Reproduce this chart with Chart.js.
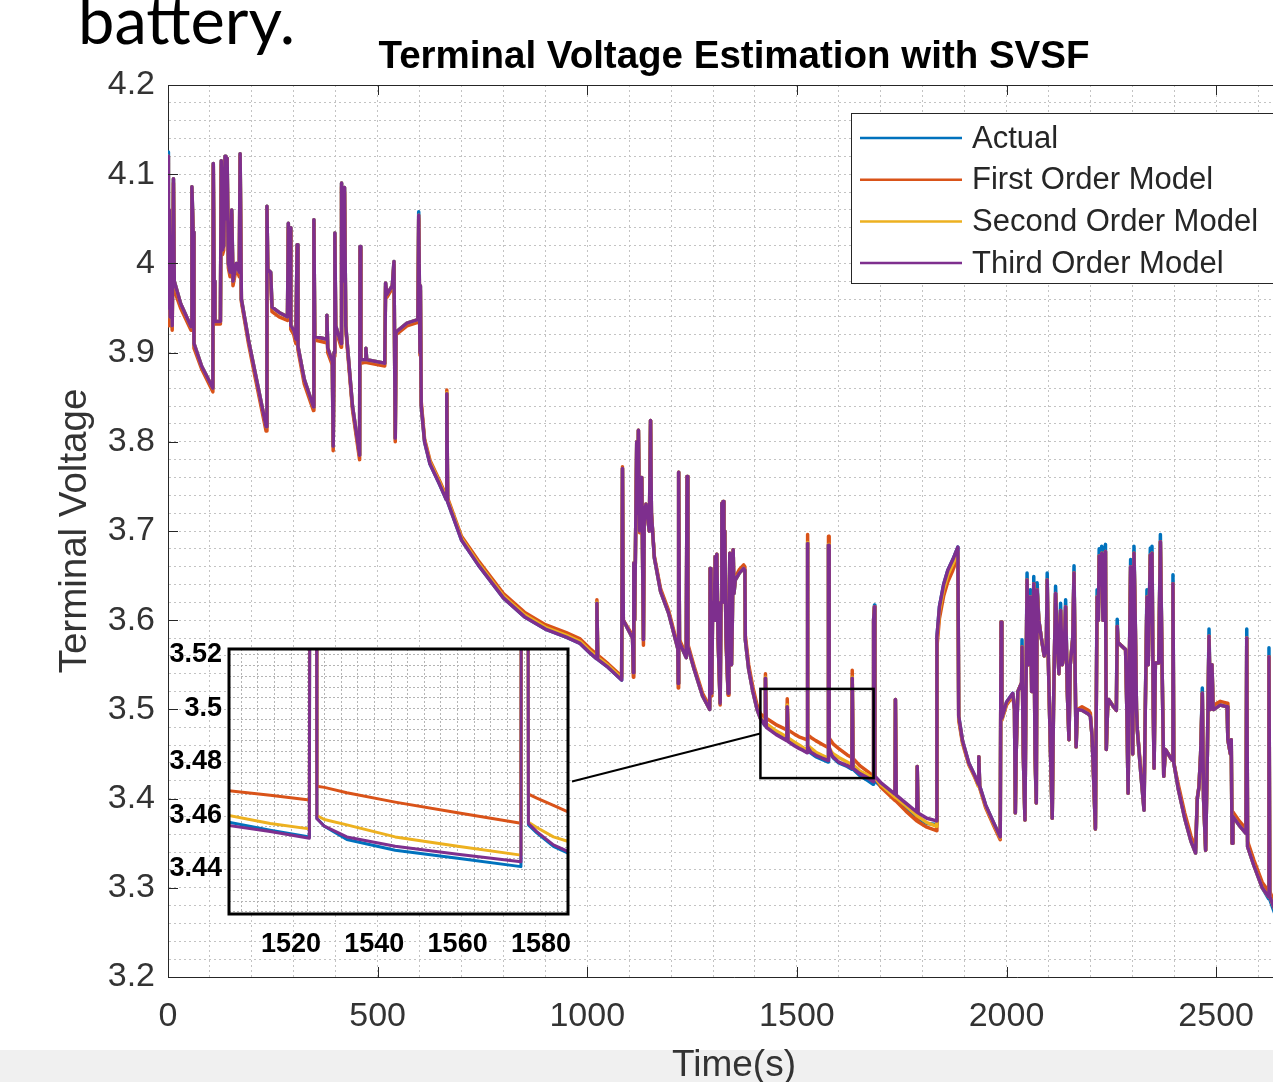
<!DOCTYPE html>
<html><head><meta charset="utf-8">
<script src="https://cdn.jsdelivr.net/npm/chart.js@4/dist/chart.umd.min.js"></script>
<style>
html,body{margin:0;padding:0;background:#fff;width:1273px;height:1082px;overflow:hidden;position:relative}
#band{position:absolute;left:0;top:1050px;width:1273px;height:32px;background:#f0f0f0}
#main{position:absolute;left:0;top:0}
#inset{position:absolute;left:150px;top:630px}
#slide{position:absolute;left:78px;top:-13px;font-family:Lato,sans-serif;font-size:65px;color:#000;line-height:1;white-space:nowrap}
</style></head><body>
<div id="band"></div>
<canvas id="main" width="1300" height="1082"></canvas>
<canvas id="inset" width="430" height="340"></canvas>
<div id="slide">battery.</div>
<script>
const FONT = "'Liberation Sans', Arial, sans-serif";
const chartTitle = 'Terminal Voltage Estimation with SVSF';
const seriesNames = ['Actual', 'First Order Model', 'Second Order Model', 'Third Order Model'];
const seriesColors = ['#0072BD', '#D95319', '#EDB120', '#7E2F8E'];

// time (s)
const timeS = [
0,1,3,5,8,10,13,15,30,55,57,60,62,80,107,108,110,112,125,127,130,133,136,138,141,144,148,152,155,163,170,172,
175,192,208,224,234,236,238,245,248,265,285,287,289,291,293,300,305,308,310,325,347,
348,350,378,379,381,392,394,396,398,400,413,414,417,421,424,440,457,
458,460,470,472,474,517,519,522,535,539,542,544,570,596,598,601,602,604,
612,625,648,664,665,667,700,740,800,850,900,950,983,1007,1022,1023,1025,1050,1082,
1084,1086,1108,1110,1111,1113,1118,1120,1122,1125,1130,1134,1136,1140,1148,1151,1153,1160,1175,1194,1216,1217,1218,1220,1236,1238,1240,
1255,1275,1292,1293,1295,1297,1299,1303,1305,1307,1309,1312,1317,1319,1321,1323,1324,1326,1328,1331,1336,1338,1340,1342,1344,1346,1348,1350,1353,1363,1373,1376,1377,1385,1395,1405,1413,
1421,1424,1425,1427,1450,1476,1477,1479,1495,1505,
1515,1524.4,1524.6,1526,1526.2,1528,1533.4,1545,1560,1575.2,1575.4,1576.8,1577,1579,1583,1587,1600,
1620,1631,1632,1634,1650,1670,1682,1683,1685,1686,1700,1734,1735,1737,1760,1786,1787,1789,1810,1833,
1834,1840,1850,1860,1872,1884,1886,1895,1910,1925,1933,1934,1936,1950,1970,1985,1987,1989,2000,2015,
2019,2021,2023,2027,2036,2037,2040,2044,2046,2049,2052,2054,2057,2060,2063,2065,2068,2071,2073,2077,2083,2090,2095,2097,2100,2105,2109,2112,2115,2117,2121,2125,2129,2133,2137,2141,2145,2149,2152,2158,2161,2164,2166,2169,2180,2195,2200,2204,2208,2212,2216,2219,2221,2224,2227,2230,2233,2236,2238,
2241,2244,2255,2262,2264,2266,2284,2287,2290,2293,2296,2299,2301,2304,2307,2310,2312,2320,2328,2331,2335,2338,2343,2345,2347,2350,2352,2355,2363,2367,2371,2375,2379,2395,2397,2399,
2410,2425,2440,2451,2455,2459,2463,2467,2470,2475,2479,2483,2486,2490,2493,2495,2510,2526,2528,2534,2536,2538,2540,2555,2571,2573,2575,2590,2610,2625,2626,2628,2637,2645
];

const actualV = [
4.125,3.95,4.06,3.94,3.99,3.93,4.095,3.98,3.955,3.929,4.086,4.035,3.91,3.885,3.86,4.112,3.98,3.935,3.935,4.115,4.015,4.02,4.12,4.05,4.118,4.0,3.99,4.06,3.98,4.0,3.99,4.123,
3.96,3.914,3.877,3.84,3.817,4.064,3.993,3.99,3.951,3.945,3.94,4.045,3.96,4.04,3.93,3.925,3.915,4.021,3.907,3.87,3.839,
4.049,3.918,3.915,3.942,3.905,3.89,3.795,3.90,4.034,3.93,3.91,4.09,3.98,4.085,3.93,3.84,3.785,
4.019,3.892,3.892,3.905,3.892,3.888,3.978,3.965,3.975,4.002,3.804,3.923,3.933,3.937,4.058,3.90,3.975,3.84,
3.80,3.775,3.752,3.735,3.854,3.733,3.69,3.662,3.625,3.604,3.59,3.581,3.574,3.563,3.557,3.619,3.556,3.547,3.533,
3.770,3.600,3.580,3.541,3.664,3.60,3.80,3.72,3.813,3.70,3.76,3.578,3.72,3.73,3.70,3.824,3.72,3.67,3.632,3.608,3.568,3.529,3.766,3.575,3.558,3.761,3.57,
3.545,3.515,3.500,3.658,3.60,3.518,3.62,3.60,3.671,3.60,3.674,3.58,3.507,3.62,3.731,3.65,3.733,3.62,3.70,3.58,3.518,3.60,3.675,3.60,3.55,3.60,3.679,3.63,3.645,3.653,3.658,3.656,3.578,3.545,3.52,3.50,3.490,
3.484,3.482,3.535,3.481,3.473,3.466,3.503,3.465,3.460,3.4575,
3.4545,3.452,3.687,3.687,3.459,3.456,3.451,3.447,3.444,3.4409,3.685,3.685,3.4565,3.4535,3.4485,3.4456,3.440,
3.436,3.433,3.535,3.433,3.426,3.42,3.416,3.60,3.617,3.42,3.414,3.40,3.511,3.399,3.389,3.379,3.436,3.378,3.372,3.371,
3.581,3.615,3.640,3.656,3.668,3.682,3.492,3.465,3.44,3.425,3.416,3.447,3.414,3.393,3.372,3.357,3.598,3.49,3.508,3.518,
3.50,3.384,3.45,3.52,3.53,3.578,3.45,3.376,3.50,3.653,3.55,3.60,3.634,3.52,3.55,3.649,3.45,3.395,3.642,3.60,3.58,3.56,3.57,3.653,3.55,3.45,3.378,3.50,3.58,3.638,3.58,3.54,3.619,3.55,3.56,3.623,3.52,3.466,3.55,3.58,3.661,3.53,3.458,3.50,3.499,3.495,3.492,3.47,3.42,3.366,3.634,3.60,3.68,3.64,3.683,3.60,3.675,3.685,3.455,
3.50,3.511,3.503,3.499,3.601,3.575,3.567,3.50,3.406,3.55,3.668,3.58,3.45,3.683,3.60,3.50,3.477,3.43,3.387,3.50,3.634,3.55,3.681,3.60,3.683,3.50,3.434,3.552,3.552,3.696,3.55,3.425,3.455,3.443,3.651,3.44,
3.41,3.378,3.352,3.339,3.40,3.413,3.45,3.524,3.40,3.342,3.45,3.590,3.50,3.550,3.50,3.50,3.505,3.503,3.466,3.45,3.466,3.35,3.38,3.37,3.361,3.59,3.346,3.325,3.30,3.288,3.569,3.287,3.275,3.265
];

const firstV = [
4.05,3.93,4.0,3.93,3.97,3.925,4.09,3.97,3.95,3.925,4.08,4.03,3.905,3.882,3.856,4.11,3.975,3.932,3.932,4.11,4.01,4.015,4.115,4.045,4.115,3.995,3.985,4.055,3.975,3.995,3.985,4.12,
3.957,3.91,3.872,3.835,3.812,4.06,3.99,3.987,3.946,3.94,3.936,4.04,3.956,4.036,3.926,3.92,3.91,4.018,3.903,3.865,3.835,
4.045,3.914,3.911,3.938,3.9,3.886,3.79,3.896,4.03,3.926,3.906,4.086,3.976,4.08,3.926,3.836,3.78,
4.015,3.888,3.889,3.9,3.889,3.885,3.974,3.962,3.972,3.998,3.8,3.92,3.93,3.934,4.05,3.897,3.97,3.845,
3.803,3.779,3.756,3.739,3.858,3.737,3.694,3.667,3.63,3.609,3.595,3.586,3.579,3.568,3.562,3.623,3.561,3.551,3.537,
3.772,3.60,3.583,3.536,3.664,3.60,3.80,3.72,3.813,3.698,3.76,3.572,3.718,3.73,3.70,3.824,3.72,3.672,3.635,3.611,3.571,3.524,3.766,3.578,3.561,3.761,3.573,
3.548,3.518,3.503,3.658,3.60,3.515,3.62,3.60,3.671,3.60,3.674,3.58,3.505,3.62,3.731,3.65,3.733,3.62,3.70,3.575,3.516,3.60,3.675,3.60,3.55,3.60,3.679,3.632,3.648,3.657,3.662,3.66,3.583,3.55,3.525,3.505,3.495,
3.492,3.491,3.540,3.49,3.483,3.477,3.512,3.477,3.472,3.4693,
3.4676,3.4658,3.696,3.696,3.4709,3.4705,3.4685,3.465,3.461,3.4571,3.694,3.694,3.468,3.4665,3.4638,3.461,3.456,
3.449,3.446,3.544,3.445,3.437,3.43,3.425,3.60,3.615,3.425,3.413,3.398,3.511,3.397,3.386,3.375,3.436,3.374,3.368,3.364,
3.57,3.602,3.627,3.643,3.656,3.671,3.488,3.462,3.438,3.423,3.414,3.447,3.412,3.39,3.369,3.354,3.598,3.488,3.505,3.515,
3.50,3.384,3.45,3.52,3.53,3.570,3.45,3.376,3.50,3.645,3.55,3.60,3.626,3.52,3.55,3.641,3.45,3.395,3.634,3.60,3.58,3.56,3.57,3.645,3.55,3.45,3.378,3.50,3.58,3.630,3.58,3.54,3.611,3.55,3.56,3.615,3.52,3.466,3.55,3.58,3.653,3.53,3.458,3.50,3.503,3.499,3.496,3.47,3.42,3.366,3.626,3.60,3.672,3.64,3.675,3.60,3.667,3.677,3.455,
3.50,3.511,3.503,3.499,3.593,3.575,3.567,3.50,3.406,3.55,3.660,3.58,3.45,3.675,3.60,3.50,3.477,3.434,3.391,3.50,3.626,3.55,3.673,3.60,3.675,3.50,3.434,3.552,3.552,3.688,3.55,3.425,3.455,3.443,3.641,3.44,
3.415,3.384,3.358,3.345,3.40,3.413,3.45,3.518,3.40,3.342,3.45,3.582,3.50,3.550,3.50,3.505,3.509,3.507,3.466,3.45,3.466,3.35,3.385,3.375,3.366,3.580,3.352,3.331,3.306,3.296,3.559,3.296,3.285,3.276
];

const secondV = [
4.12,3.95,4.06,3.94,3.99,3.93,4.095,3.98,3.955,3.929,4.086,4.035,3.91,3.885,3.86,4.112,3.98,3.935,3.935,4.115,4.015,4.02,4.12,4.05,4.118,4.0,3.99,4.06,3.98,4.0,3.99,4.123,
3.96,3.914,3.877,3.84,3.817,4.064,3.993,3.99,3.951,3.945,3.94,4.045,3.96,4.04,3.93,3.925,3.915,4.021,3.907,3.87,3.839,
4.049,3.918,3.915,3.942,3.905,3.89,3.795,3.90,4.034,3.93,3.91,4.09,3.98,4.085,3.93,3.84,3.785,
4.019,3.892,3.892,3.905,3.892,3.888,3.978,3.965,3.975,4.002,3.804,3.923,3.933,3.937,4.054,3.90,3.975,3.84,
3.801,3.777,3.754,3.737,3.855,3.735,3.692,3.664,3.627,3.606,3.592,3.583,3.576,3.565,3.559,3.62,3.558,3.549,3.535,
3.770,3.600,3.580,3.541,3.664,3.60,3.80,3.72,3.813,3.70,3.76,3.578,3.72,3.73,3.70,3.824,3.72,3.67,3.632,3.608,3.568,3.529,3.766,3.575,3.558,3.761,3.57,
3.545,3.515,3.500,3.658,3.60,3.518,3.62,3.60,3.671,3.60,3.674,3.58,3.507,3.62,3.731,3.65,3.733,3.62,3.70,3.58,3.518,3.60,3.675,3.60,3.55,3.60,3.679,3.63,3.645,3.653,3.658,3.656,3.578,3.545,3.52,3.50,3.490,
3.487,3.485,3.536,3.484,3.476,3.469,3.505,3.468,3.463,3.46,
3.457,3.455,3.687,3.687,3.460,3.4585,3.4565,3.452,3.4485,3.4452,3.685,3.685,3.4575,3.4555,3.452,3.4501,3.446,
3.441,3.438,3.536,3.438,3.431,3.426,3.422,3.60,3.615,3.423,3.416,3.402,3.511,3.401,3.392,3.381,3.436,3.38,3.373,3.369,
3.576,3.61,3.635,3.651,3.663,3.677,3.49,3.464,3.439,3.424,3.414,3.447,3.413,3.392,3.371,3.356,3.598,3.489,3.507,3.517,
3.50,3.384,3.45,3.52,3.53,3.570,3.45,3.376,3.50,3.645,3.55,3.60,3.626,3.52,3.55,3.641,3.45,3.395,3.634,3.60,3.58,3.56,3.57,3.645,3.55,3.45,3.378,3.50,3.58,3.630,3.58,3.54,3.611,3.55,3.56,3.615,3.52,3.466,3.55,3.58,3.653,3.53,3.458,3.50,3.499,3.495,3.492,3.47,3.42,3.366,3.626,3.60,3.672,3.64,3.675,3.60,3.667,3.677,3.455,
3.50,3.511,3.503,3.499,3.593,3.575,3.567,3.50,3.406,3.55,3.660,3.58,3.45,3.675,3.60,3.50,3.477,3.43,3.387,3.50,3.626,3.55,3.673,3.60,3.675,3.50,3.434,3.552,3.552,3.688,3.55,3.425,3.455,3.443,3.641,3.44,
3.41,3.378,3.352,3.339,3.40,3.413,3.45,3.518,3.40,3.342,3.45,3.582,3.50,3.550,3.50,3.50,3.505,3.503,3.466,3.45,3.466,3.35,3.38,3.37,3.361,3.580,3.346,3.325,3.30,3.290,3.559,3.29,3.279,3.27
];

const thirdV = [
4.12,3.95,4.06,3.94,3.99,3.93,4.095,3.98,3.955,3.929,4.086,4.035,3.91,3.885,3.86,4.112,3.98,3.935,3.935,4.115,4.015,4.02,4.12,4.05,4.118,4.0,3.99,4.06,3.98,4.0,3.99,4.123,
3.96,3.914,3.877,3.84,3.817,4.064,3.993,3.99,3.951,3.945,3.94,4.045,3.96,4.04,3.93,3.925,3.915,4.021,3.907,3.87,3.839,
4.049,3.918,3.915,3.942,3.905,3.89,3.795,3.90,4.034,3.93,3.91,4.09,3.98,4.085,3.93,3.84,3.785,
4.019,3.892,3.892,3.905,3.892,3.888,3.978,3.965,3.975,4.002,3.804,3.923,3.933,3.937,4.054,3.90,3.975,3.84,
3.80,3.775,3.752,3.735,3.854,3.733,3.69,3.662,3.625,3.604,3.59,3.581,3.574,3.563,3.557,3.619,3.556,3.547,3.533,
3.770,3.600,3.580,3.541,3.664,3.60,3.80,3.72,3.813,3.70,3.76,3.578,3.72,3.73,3.70,3.824,3.72,3.67,3.632,3.608,3.568,3.529,3.766,3.575,3.558,3.761,3.57,
3.545,3.515,3.500,3.658,3.60,3.518,3.62,3.60,3.671,3.60,3.674,3.58,3.507,3.62,3.731,3.65,3.733,3.62,3.70,3.58,3.518,3.60,3.675,3.60,3.55,3.60,3.679,3.63,3.645,3.653,3.658,3.656,3.578,3.545,3.52,3.50,3.490,
3.484,3.482,3.535,3.480,3.472,3.465,3.503,3.464,3.459,3.4563,
3.454,3.4515,3.686,3.686,3.4588,3.456,3.452,3.4485,3.4455,3.4427,3.684,3.684,3.457,3.454,3.449,3.4462,3.441,
3.437,3.434,3.535,3.434,3.428,3.423,3.419,3.60,3.615,3.425,3.418,3.405,3.511,3.404,3.395,3.385,3.436,3.384,3.378,3.375,
3.581,3.615,3.640,3.656,3.668,3.682,3.492,3.465,3.44,3.425,3.416,3.447,3.414,3.393,3.372,3.357,3.598,3.49,3.508,3.518,
3.50,3.384,3.45,3.52,3.53,3.570,3.45,3.376,3.50,3.645,3.55,3.60,3.626,3.52,3.55,3.641,3.45,3.395,3.634,3.60,3.58,3.56,3.57,3.645,3.55,3.45,3.378,3.50,3.58,3.630,3.58,3.54,3.611,3.55,3.56,3.615,3.52,3.466,3.55,3.58,3.653,3.53,3.458,3.50,3.499,3.495,3.492,3.47,3.42,3.366,3.626,3.60,3.672,3.64,3.675,3.60,3.667,3.677,3.455,
3.50,3.511,3.503,3.499,3.593,3.575,3.567,3.50,3.406,3.55,3.660,3.58,3.45,3.675,3.60,3.50,3.477,3.43,3.387,3.50,3.626,3.55,3.673,3.60,3.675,3.50,3.434,3.552,3.552,3.688,3.55,3.425,3.455,3.443,3.641,3.44,
3.41,3.378,3.352,3.339,3.40,3.413,3.45,3.518,3.40,3.342,3.45,3.582,3.50,3.550,3.50,3.50,3.505,3.503,3.466,3.45,3.466,3.35,3.38,3.37,3.361,3.580,3.346,3.325,3.30,3.290,3.559,3.29,3.279,3.27
];

// axis ranges
const mainX = {min: 0, max: 2700, minor: 100, major: 500};
const mainY = {min: 3.2, max: 4.2, minor: 0.02, major: 0.1};
const insetX = {min: 1505.1, max: 1586.5, minor: 4, major: 20};
const insetY = {min: 3.4232, max: 3.5222, minor: 0.004, major: 0.02};
const zoomBox = {t0: 1413, t1: 1683, v0: 3.423, v1: 3.523};

const valueSets = [actualV, firstV, secondV, thirdV];
valueSets.forEach((v, k) => { if (v.length !== timeS.length) throw new Error('length mismatch ' + k + ': ' + v.length + ' vs ' + timeS.length); });

function makeDatasets(lw) {
  return valueSets.map((vals, k) => ({
    label: seriesNames[k],
    data: timeS.map((t, i) => ({x: t, y: vals[i]})),
    borderColor: seriesColors[k],
    backgroundColor: seriesColors[k],
    borderWidth: lw,
    pointRadius: 0,
    fill: false,
    tension: 0,
    borderJoinStyle: 'round',
    borderCapStyle: 'round',
    order: 4 - k
  }));
}
function isMultiple(v, step) {
  const q = v / step;
  return Math.abs(q - Math.round(q)) < 1e-6;
}
function fitX(h) { return s => { s.height = h; s.paddingLeft = 0; s.paddingRight = 0; }; }
function fitY(w) { return s => { s.width = w; s.paddingTop = 0; s.paddingBottom = 0; }; }
const GRID = '#c3c3c3';
const INSET_GRID = '#b4b4b4';

// ---------- inset ----------
const insetPlugin = {
  id: 'insetDecor',
  beforeDraw(chart) {
    const a = chart.chartArea, ctx = chart.ctx;
    ctx.save(); ctx.fillStyle = '#fff'; ctx.fillRect(a.left, a.top, a.right - a.left, a.bottom - a.top); ctx.restore();
  },
  afterDraw(chart) {
    const a = chart.chartArea, ctx = chart.ctx;
    ctx.save(); ctx.strokeStyle = '#000'; ctx.lineWidth = 3;
    ctx.strokeRect(a.left, a.top, a.right - a.left, a.bottom - a.top); ctx.restore();
  }
};
const insetChart = new Chart(document.getElementById('inset'), {
  type: 'line',
  data: {datasets: makeDatasets(3)},
  options: {
    responsive: false, animation: false, devicePixelRatio: 1, events: [],
    layout: {padding: {left: 0, right: 12, top: 19, bottom: 0}},
    plugins: {legend: {display: false}, tooltip: {enabled: false}, title: {display: false}},
    scales: {
      x: {type: 'linear', min: insetX.min, max: insetX.max,
        afterFit: fitX(56),
        ticks: {stepSize: insetX.minor, includeBounds: false, autoSkip: false, maxRotation: 0, padding: 14, color: '#000',
          font: {family: FONT, size: 27, weight: 'bold'},
          callback: v => isMultiple(v, insetX.major) ? String(Math.round(v)) : ''},
        grid: {color: INSET_GRID, lineWidth: 1, drawTicks: false},
        border: {display: false, dash: [2, 2]}},
      y: {min: insetY.min, max: insetY.max,
        afterFit: fitY(79),
        ticks: {stepSize: insetY.minor, includeBounds: false, autoSkip: false, padding: 7, color: '#000',
          font: {family: FONT, size: 27, weight: 'bold'},
          callback: v => isMultiple(v, insetY.major) ? String(Math.round(v * 100) / 100) : ''},
        grid: {color: INSET_GRID, lineWidth: 1, drawTicks: false},
        border: {display: false, dash: [2, 2]}}
    }
  },
  plugins: [insetPlugin]
});

// ---------- main ----------
const insetCanvasOffset = {left: 150, top: 630};
const mainPlugin = {
  id: 'mainDecor',
  afterDraw(chart) {
    const ctx = chart.ctx, a = chart.chartArea, xs = chart.scales.x, ys = chart.scales.y;
    const line = (x1, y1, x2, y2) => { ctx.beginPath(); ctx.moveTo(x1, y1); ctx.lineTo(x2, y2); ctx.stroke(); };
    ctx.save();
    // title centred over the axes
    ctx.fillStyle = '#000'; ctx.font = 'bold 38.5px ' + FONT;
    ctx.textAlign = 'center'; ctx.textBaseline = 'alphabetic';
    ctx.fillText(chartTitle, (a.left + a.right) / 2, 68);
    ctx.strokeStyle = '#262626'; ctx.lineWidth = 1;
    // top box edge
    line(a.left, Math.round(a.top) + 0.5, a.right, Math.round(a.top) + 0.5);
    // inward tick marks
    xs.ticks.forEach(t => {
      if (isMultiple(t.value, mainX.major)) {
        const px = Math.round(xs.getPixelForValue(t.value)) + 0.5;
        line(px, a.bottom, px, a.bottom - 10);
        line(px, a.top, px, a.top + 10);
      }
    });
    ys.ticks.forEach(t => {
      if (isMultiple(t.value, mainY.major)) {
        const py = Math.round(ys.getPixelForValue(t.value)) + 0.5;
        line(a.left, py, a.left + 10, py);
      }
    });
    // zoom box
    const bx1 = xs.getPixelForValue(zoomBox.t0), bx2 = xs.getPixelForValue(zoomBox.t1);
    const by1 = ys.getPixelForValue(zoomBox.v1), by2 = ys.getPixelForValue(zoomBox.v0);
    ctx.strokeStyle = '#000'; ctx.lineWidth = 2.5;
    ctx.strokeRect(bx1, by1, bx2 - bx1, by2 - by1);
    // connector from inset to zoom box
    const ia = insetChart.chartArea;
    const sx = insetCanvasOffset.left + ia.right + 4;
    const sy = insetCanvasOffset.top + (ia.top + ia.bottom) / 2;
    ctx.lineWidth = 2;
    line(sx, sy, bx1, (by1 + by2) / 2);
    // legend
    const lx = 851, ly = 113, lw = 427, lh = 170;
    ctx.fillStyle = '#fff'; ctx.fillRect(lx, ly, lw, lh);
    ctx.strokeStyle = '#262626'; ctx.lineWidth = 1;
    ctx.strokeRect(lx + 0.5, ly + 0.5, lw, lh);
    ctx.font = '31px ' + FONT; ctx.textBaseline = 'middle'; ctx.textAlign = 'left';
    chart.data.datasets.forEach((ds, i) => {
      const yy = 138 + i * 41.7;
      ctx.strokeStyle = ds.borderColor; ctx.lineWidth = 2.5;
      line(860, yy, 962, yy);
      ctx.fillStyle = '#262626';
      ctx.fillText(ds.label, 972, yy + 1);
    });
    ctx.restore();
  }
};

new Chart(document.getElementById('main'), {
  type: 'line',
  data: {datasets: makeDatasets(3.5)},
  options: {
    responsive: false, animation: false, devicePixelRatio: 1, events: [],
    layout: {padding: {left: 0, right: 0, top: 85, bottom: 0}},
    plugins: {legend: {display: false}, tooltip: {enabled: false}, title: {display: false}},
    scales: {
      x: {type: 'linear', min: mainX.min, max: mainX.max,
        afterFit: fitX(105),
        ticks: {stepSize: mainX.minor, includeBounds: false, autoSkip: false, maxRotation: 0, padding: 19, color: '#333',
          font: {family: FONT, size: 34},
          callback: v => isMultiple(v, mainX.major) ? String(Math.round(v)) : ''},
        grid: {color: GRID, lineWidth: 1, drawTicks: false},
        border: {display: true, color: '#262626', width: 1, dash: [2, 3]},
        title: {display: true, text: 'Time(s)', color: '#333', font: {family: FONT, size: 37, lineHeight: 1}, padding: {top: 0, bottom: -2}}},
      y: {min: mainY.min, max: mainY.max,
        afterFit: fitY(168),
        ticks: {stepSize: mainY.minor, includeBounds: false, autoSkip: false, padding: 13, color: '#333',
          font: {family: FONT, size: 34},
          callback: v => isMultiple(v, mainY.major) ? String(Math.round(v * 10) / 10) : ''},
        grid: {color: GRID, lineWidth: 1, drawTicks: false},
        border: {display: true, color: '#262626', width: 1, dash: [2, 3]},
        title: {display: true, text: 'Terminal Voltage', color: '#333', font: {family: FONT, size: 38.5, lineHeight: 1.2}, padding: {top: 52, bottom: 0}}}
    }
  },
  plugins: [mainPlugin]
});
</script>
</body></html>
